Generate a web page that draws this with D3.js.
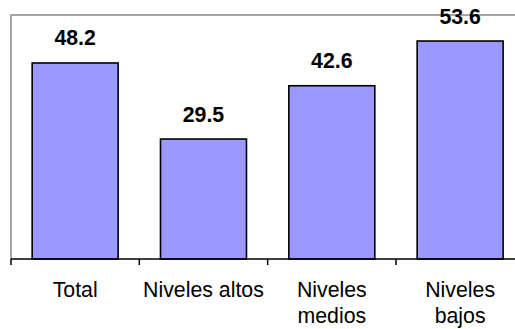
<!DOCTYPE html>
<html>
<head>
<meta charset="utf-8">
<script src="https://cdn.jsdelivr.net/npm/d3@7"></script>
<style>
  html, body { margin: 0; padding: 0; background: #fff; }
  svg { display: block; font-family: "Liberation Sans", Arial, sans-serif; }
</style>
</head>
<body>
<svg id="chart" width="515" height="329"></svg>
<script>
// Categories (each may wrap onto two lines) and their values
const categories = ["Total", "Niveles altos", "Niveles medios", "Niveles bajos"];
const labelLines = [["Total"], ["Niveles altos"], ["Niveles", "medios"], ["Niveles", "bajos"]];
const values = [48.2, 29.5, 42.6, 53.6];
const yDomain = [0, 60];

const svg = d3.select("#chart");
const plot = { left: 11, right: 524.3, top: 15, bottom: 259 };

const x = d3.scaleBand()
  .domain(categories)
  .range([plot.left, plot.right])
  .paddingInner(0.33)
  .paddingOuter(0.165);

const y = d3.scaleLinear().domain(yDomain).range([plot.bottom, plot.top]);

// Grey frame of the plot area (left and top edges)
svg.append("path")
  .attr("d", `M${plot.left},${plot.bottom} V${plot.top} H${plot.right}`)
  .attr("fill", "none")
  .attr("stroke", "#888")
  .attr("stroke-width", 1.5);

// Bars
svg.append("g").selectAll("rect")
  .data(values)
  .join("rect")
  .attr("x", (d, i) => x(categories[i]))
  .attr("width", x.bandwidth())
  .attr("y", d => y(d))
  .attr("height", d => y(0) - y(d))
  .attr("fill", "#9999ff")
  .attr("stroke", "#000")
  .attr("stroke-width", 1.6);

// Value labels above the bars
svg.append("g").selectAll("text")
  .data(values)
  .join("text")
  .attr("x", (d, i) => x(categories[i]) + x.bandwidth() / 2)
  .attr("y", d => y(d) - 17.5)
  .attr("text-anchor", "middle")
  .attr("font-size", "21.3px")
  .attr("font-weight", "bold")
  .attr("fill", "#000")
  .text(d => d.toFixed(1));

// Category axis: ticks on band boundaries
const step = x.step();
const tickPos = d3.range(categories.length + 1).map(i => plot.left + i * step);
const axis = svg.append("g");
axis.append("line")
  .attr("x1", plot.left).attr("x2", plot.right)
  .attr("y1", plot.bottom).attr("y2", plot.bottom)
  .attr("stroke", "#000").attr("stroke-width", 1.5);
axis.selectAll("line.tick")
  .data(tickPos)
  .join("line")
  .attr("class", "tick")
  .attr("x1", d => d).attr("x2", d => d)
  .attr("y1", plot.bottom).attr("y2", plot.bottom + 6)
  .attr("stroke", "#000").attr("stroke-width", 1.5);

// Category labels
const lab = axis.selectAll("text.cat")
  .data(categories)
  .join("text")
  .attr("class", "cat")
  .attr("x", d => x(d) + x.bandwidth() / 2)
  .attr("y", 297)
  .attr("text-anchor", "middle")
  .attr("font-size", "21.3px")
  .attr("fill", "#000");
lab.each(function(d, i) {
  d3.select(this).selectAll("tspan")
    .data(labelLines[i])
    .join("tspan")
    .attr("x", x(d) + x.bandwidth() / 2)
    .attr("dy", (t, j) => j === 0 ? 0 : 25.5)
    .text(t => t);
});
</script>
</body>
</html>
